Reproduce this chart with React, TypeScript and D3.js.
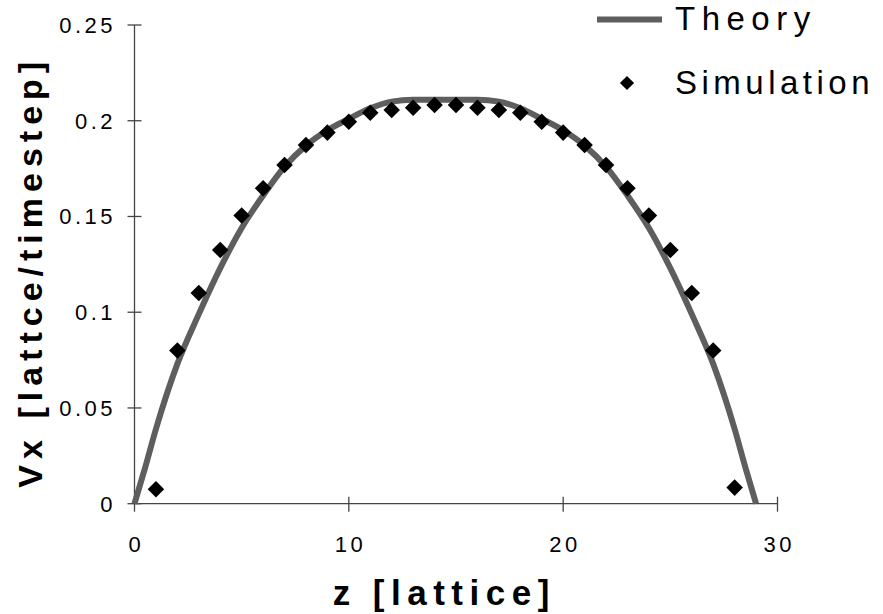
import React from "react";
import * as d3 from "d3";

// Lattice positions (z) and measured velocity of the simulation
const simZ = [1, 2, 3, 4, 5, 6, 7, 8, 9, 10, 11, 12, 13, 14, 15, 16, 17, 18, 19, 20, 21, 22, 23, 24, 25, 26, 27, 28];
const simV = [
  0.0075, 0.080, 0.110, 0.1325, 0.1505, 0.1647, 0.1769, 0.1873, 0.1938, 0.1995,
  0.2042, 0.2056, 0.2068, 0.2082, 0.2082, 0.2068, 0.2056, 0.2042, 0.1995, 0.1938,
  0.1873, 0.1769, 0.1647, 0.1505, 0.1325, 0.110, 0.080, 0.0084,
];

// Analytical profile across the channel
const theoryZ = [0, 0.5, 1, 2, 3, 4, 5, 6, 7, 8, 9, 10, 11, 12, 13, 14, 14.5, 15, 16, 17, 18, 19, 20, 21, 22, 23, 24, 25, 26, 27, 28, 28.5, 29];
const theoryV = [
  0, 0.019, 0.039, 0.073, 0.099, 0.123, 0.144, 0.161, 0.176, 0.187, 0.195, 0.201, 0.2065, 0.210, 0.211, 0.211, 0.211,
  0.211, 0.211, 0.210, 0.2065, 0.201, 0.195, 0.187, 0.176, 0.161, 0.144, 0.123, 0.099, 0.073, 0.039, 0.019, 0,
];

const xTicks = [0, 10, 20, 30];
const yTicks = [0, 0.05, 0.1, 0.15, 0.2, 0.25];
const yTickLabels = ["0", "0.05", "0.1", "0.15", "0.2", "0.25"];

const W = 883;
const H = 614;
const FONT = "'Liberation Sans', Arial, Helvetica, sans-serif";

export default function App() {
  const x = d3.scaleLinear().domain([0, 30]).range([134.5, 777.5]);
  const y = d3.scaleLinear().domain([0, 0.25]).range([503.7, 25]);

  const line = d3
    .line<number>()
    .x((_, i) => x(theoryZ[i]))
    .y((v) => y(v))
    .curve(d3.curveMonotoneX);

  const diamond = d3.symbol().type(d3.symbolSquare).size(137)();
  const legendDiamond = d3.symbol().type(d3.symbolSquare).size(100)();

  const tickFs = 22;
  const tickLs = 3.5;
  const titleLs = 6.5;

  return (
    <svg
      width={W}
      height={H}
      style={{ position: "absolute", left: 0, top: 0, background: "#fff" }}
      fontFamily={FONT}
    >
      <rect width={W} height={H} fill="#fff" />

      {/* axes */}
      <line x1={x(0)} x2={x(0)} y1={y(0.25)} y2={y(0)} stroke="#444" strokeWidth={1.3} />
      <line x1={x(0)} x2={x(30)} y1={y(0)} y2={y(0)} stroke="#444" strokeWidth={1.3} />

      {yTicks.map((t, i) => (
        <g key={"yt" + i}>
          <line x1={x(0) - 7} x2={x(0) + 7} y1={y(t)} y2={y(t)} stroke="#444" strokeWidth={1.3} />
          <text
            x={116}
            y={y(t)}
            dy="0.36em"
            textAnchor="end"
            fontSize={tickFs}
            letterSpacing={tickLs}
            fill="#000"
          >
            {yTickLabels[i]}
          </text>
        </g>
      ))}

      {xTicks.map((t, i) => (
        <g key={"xt" + i}>
          <line x1={x(t)} x2={x(t)} y1={y(0) - 7} y2={y(0) + 8} stroke="#444" strokeWidth={1.3} />
          <text
            x={x(t) + tickLs / 2}
            y={552}
            textAnchor="middle"
            fontSize={tickFs}
            letterSpacing={tickLs}
            fill="#000"
          >
            {t}
          </text>
        </g>
      ))}

      {/* theory curve */}
      <path d={line(theoryV) || ""} fill="none" stroke="#5e5e5e" strokeWidth={6} strokeLinecap="butt" />

      {/* simulation points */}
      {simV.map((v, i) => (
        <path
          key={"p" + i}
          d={diamond || ""}
          transform={`translate(${x(simZ[i])},${y(v)}) rotate(45)`}
          fill="#000"
        />
      ))}

      {/* axis titles */}
      <text
        transform={`translate(42,${275}) rotate(-90)`}
        x={titleLs / 2}
        textAnchor="middle"
        fontSize={34}
        fontWeight="bold"
        letterSpacing={6}
        fill="#000"
      >
        Vx [lattce/timestep]
      </text>
      <text
        x={441 + titleLs / 2}
        y={605}
        textAnchor="middle"
        fontSize={35}
        fontWeight="bold"
        letterSpacing={titleLs}
        fill="#000"
      >
        z [lattice]
      </text>

      {/* legend */}
      <line x1={597} x2={662} y1={19.5} y2={19.5} stroke="#5e5e5e" strokeWidth={6} />
      <text x={675} y={29.5} fontSize={33} letterSpacing={6.5} fill="#000">
        Theory
      </text>
      <path d={legendDiamond || ""} transform={`translate(627,83) rotate(45)`} fill="#000" />
      <text x={675} y={94} fontSize={33} letterSpacing={4.5} fill="#000">
        Simulation
      </text>
    </svg>
  );
}
